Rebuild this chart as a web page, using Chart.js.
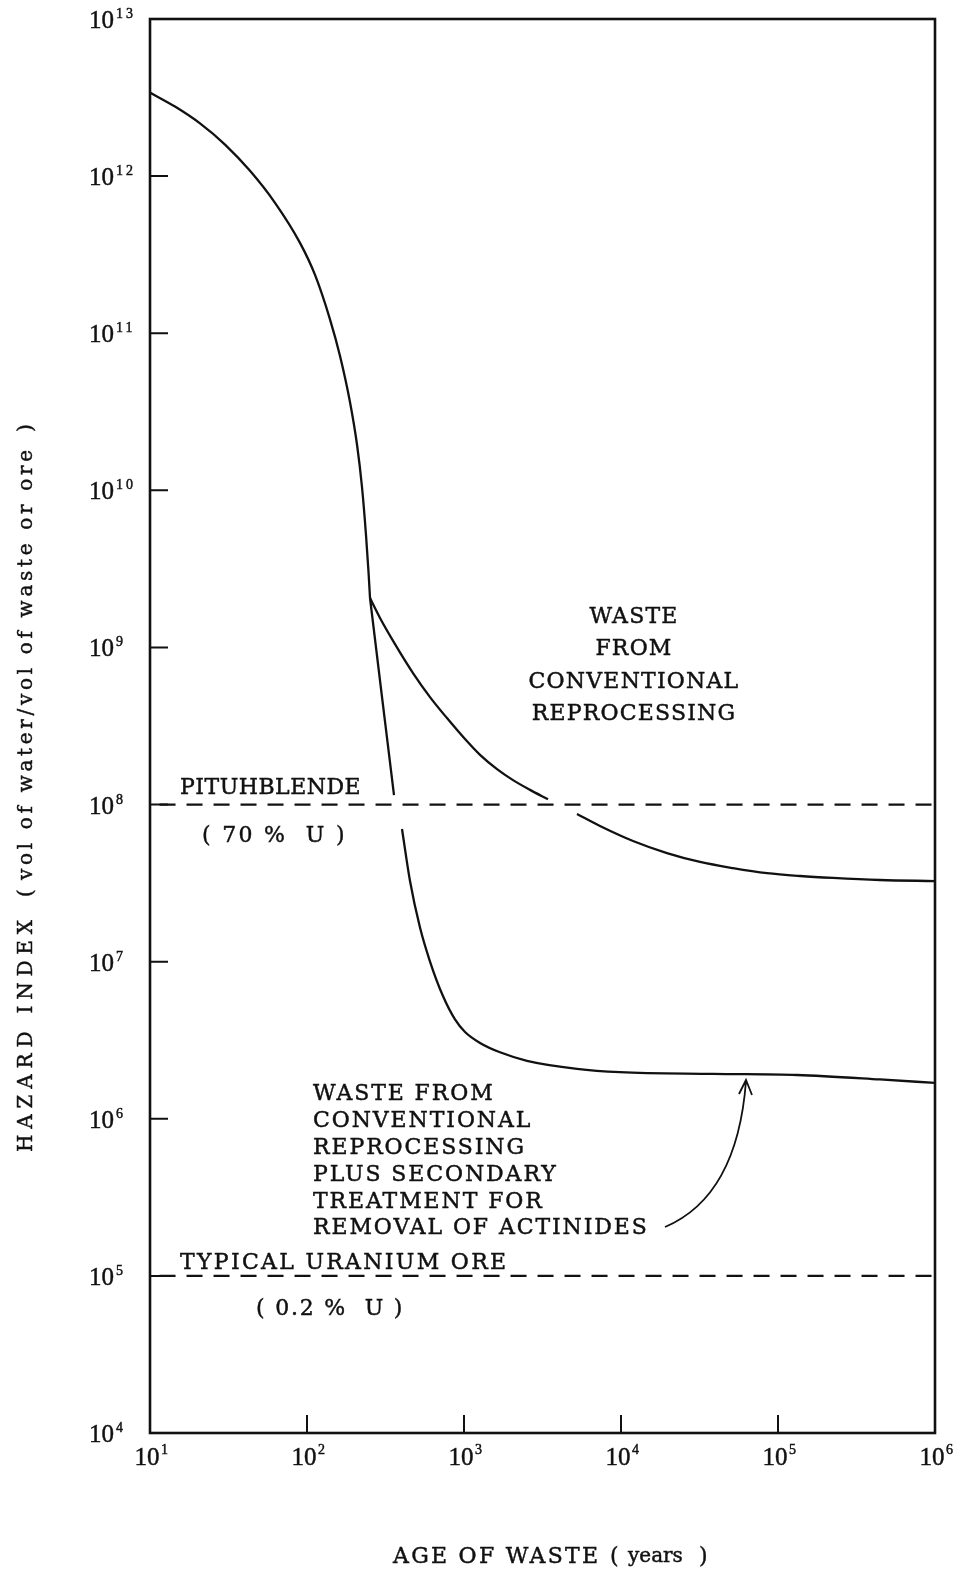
<!DOCTYPE html>
<html>
<head>
<meta charset="utf-8">
<title>Hazard index vs age of waste</title>
<script src="https://cdn.jsdelivr.net/npm/chart.js@4.4.1/dist/chart.umd.min.js"></script>
<style>
  html, body { margin: 0; padding: 0; background: #fff; }
  #wrap { position: relative; width: 955px; height: 1572px; }
</style>
</head>
<body>
<div id="wrap"><canvas id="hazardChart"></canvas></div>
<script>
// values
// common part of the curve, up to where the two treatments split (~250 years)
const earlyAge   = [10, 14.43, 20.82, 30.05, 43.35, 62.56, 90.24, 112.5, 140.1, 162.3, 187.8, 208.3, 224, 237.6, 246.5, 252];
const earlyIndex = [3.40e12, 2.77e12, 2.165e12, 1.587e12, 1.08e12, 6.76e11, 3.76e11, 2.35e11, 1.226e11, 7.16e10, 3.65e10, 1.95e10, 1.05e10, 5.19e9, 3.02e9, 2.06e9];

// null = break in the printed curve where it crosses the dashed line
const conventionalAge   = [252, 291.7, 363.5, 473.4, 607.4, 779.3, 1015, 1265, 1623, 2052, 2633, 3428, 4200, 5245, 7348, 11925, 19630, 31860, 51690, 85100, 138100, 224000, 446300, 1000000];
const conventionalIndex = [2.06e9, 1.54e9, 1.05e9, 6.87e8, 4.83e8, 3.55e8, 2.61e8, 2.07e8, 1.68e8, 1.43e8, 1.24e8, 1.08e8, null, 8.7e7, 7.3e7, 5.86e7, 4.91e7, 4.31e7, 3.94e7, 3.66e7, 3.51e7, 3.41e7, 3.31e7, 3.26e7];

const secondaryAge   = [252, 300.5, 358.2, 380, 402.8, 453, 524.5, 607.4, 734.6, 876.3, 1015, 1265, 1696, 2519, 5245, 9854, 38550, 132100, 446300, 1000000];
const secondaryIndex = [2.06e9, 4.83e8, 1.15e8, null, 6.99e7, 3.26e7, 1.648e7, 1.002e7, 6.04e6, 4.29e6, 3.57e6, 3.04e6, 2.65e6, 2.34e6, 2.08e6, 1.98e6, 1.93e6, 1.90e6, 1.78e6, 1.69e6];

const referenceAge = [11.5, 1000000];
const pitchblendeLevel = 1e8;
const uraniumOreLevel = 1e5;

const xTickValues = [1e1, 1e2, 1e3, 1e4, 1e5, 1e6];
const yTickValues = [1e4, 1e5, 1e6, 1e7, 1e8, 1e9, 1e10, 1e11, 1e12, 1e13];

const ink = '#111';

function toPoints(xs, ys) {
    return xs.map((v, i) => ({ x: v, y: ys[i] }));
}

// text with a hairline stroke so it looks like the heavy print of the scan
function drawSpaced(ctx, text, x, y, spacing) {
    ctx.letterSpacing = spacing + 'px';
    ctx.fillText(text, x, y);
    ctx.lineWidth = 0.45;
    ctx.strokeText(text, x, y);
    ctx.letterSpacing = '0px';
}

// stretch the letter spacing so a line covers the given length
function drawFitted(ctx, text, x, y, length) {
    ctx.letterSpacing = '0px';
    const w = ctx.measureText(text).width;
    const spacing = (length - w) / (text.length - 1);
    drawSpaced(ctx, text, x, y, spacing);
}

// frame, inward ticks, power-of-ten labels and the printed notes
const paperPlugin = {
    id: 'paper',
    afterDatasetsDraw(chart) {
        const { ctx, chartArea: a, scales } = chart;
        const xs = scales.x, ys = scales.y;
        ctx.save();
        ctx.strokeStyle = ink;
        ctx.fillStyle = ink;

        ctx.lineWidth = 2.6;
        ctx.strokeRect(a.left, a.top, a.right - a.left, a.bottom - a.top);

        // tick marks point into the plot
        ctx.lineWidth = 2;
        ctx.beginPath();
        xs.ticks.forEach(t => {
            if (t.value <= xs.min || t.value >= xs.max) return;
            const px = xs.getPixelForValue(t.value);
            ctx.moveTo(px, a.bottom);
            ctx.lineTo(px, a.bottom - 18);
        });
        ys.ticks.forEach(t => {
            if (t.value <= ys.min || t.value >= ys.max) return;
            const py = ys.getPixelForValue(t.value);
            ctx.moveTo(a.left, py);
            ctx.lineTo(a.left + 18, py);
        });
        ctx.stroke();

        // y tick labels: 10 with a raised exponent
        ctx.textBaseline = 'alphabetic';
        ys.ticks.forEach(t => {
            const py = ys.getPixelForValue(t.value);
            const exp = Math.round(Math.log10(t.value));
            ctx.font = '25px "Liberation Serif"';
            ctx.textAlign = 'right';
            drawSpaced(ctx, '10', 114, py + 9, 0);
            ctx.font = '14px "Liberation Serif"';
            ctx.textAlign = 'left';
            drawSpaced(ctx, String(exp), 116, py - 1, 3);
        });

        // x tick labels
        xs.ticks.forEach(t => {
            const px = xs.getPixelForValue(t.value);
            const exp = Math.round(Math.log10(t.value));
            ctx.font = '25px "Liberation Serif"';
            ctx.textAlign = 'center';
            drawSpaced(ctx, '10', px - 3, a.bottom + 32, 0);
            ctx.font = '14px "Liberation Serif"';
            ctx.textAlign = 'left';
            drawSpaced(ctx, String(exp), px + 11, a.bottom + 21, 0);
        });

        // notes inside the plot
        ctx.font = '22px "DejaVu Serif"';
        ctx.textBaseline = 'middle';
        ctx.textAlign = 'center';
        [['WASTE', 617], ['FROM', 649], ['CONVENTIONAL', 682], ['REPROCESSING', 714]].forEach(([s, yy]) => {
            drawSpaced(ctx, s, 634, yy, 1.2);
        });

        ctx.textAlign = 'left';
        drawSpaced(ctx, 'PITUHBLENDE', 180, 788, 0.5);
        drawSpaced(ctx, '( 70 %  U )', 202, 836, 2.3);

        [['WASTE FROM', 1094], ['CONVENTIONAL', 1121], ['REPROCESSING', 1148],
         ['PLUS SECONDARY', 1175], ['TREATMENT FOR', 1202], ['REMOVAL OF ACTINIDES', 1228]].forEach(([s, yy]) => {
            drawSpaced(ctx, s, 313, yy, 1.9);
        });

        drawSpaced(ctx, 'TYPICAL URANIUM ORE', 180, 1263, 2.3);
        drawSpaced(ctx, '( 0.2 %  U )', 256, 1309, 1.8);

        // curved arrow pointing at the lower curve
        ctx.lineWidth = 1.8;
        ctx.beginPath();
        ctx.moveTo(665, 1227);
        ctx.bezierCurveTo(712, 1207, 740, 1160, 746, 1081);
        ctx.moveTo(739, 1094);
        ctx.lineTo(746, 1080);
        ctx.lineTo(752, 1095);
        ctx.stroke();

        // x axis title
        ctx.font = '22px "DejaVu Serif"';
        ctx.textAlign = 'left';
        drawFitted(ctx, 'AGE OF WASTE', 393, 1557, 205);
        drawSpaced(ctx, '(', 610, 1557, 0);
        drawSpaced(ctx, ')', 699, 1557, 0);
        ctx.font = '20px "DejaVu Serif"';
        drawSpaced(ctx, 'years', 628, 1557, 0);

        // y axis title, read bottom to top
        ctx.translate(27, 0);
        ctx.rotate(-Math.PI / 2);
        ctx.font = '20px "DejaVu Serif"';
        drawFitted(ctx, 'HAZARD INDEX', -1152, 0, 232);
        drawSpaced(ctx, '(', -897, 0, 0);
        drawFitted(ctx, 'vol of water/vol of waste or ore', -880, 0, 430);
        drawSpaced(ctx, ')', -432, 0, 0);

        ctx.restore();
    }
};

const ctx = document.getElementById('hazardChart').getContext('2d');

const curveStyle = {
    borderColor: ink,
    borderWidth: 2.3,
    pointRadius: 0,
    fill: false,
    spanGaps: false,
    cubicInterpolationMode: 'monotone'
};
const dashStyle = {
    borderColor: ink,
    borderWidth: 2.2,
    borderDash: [16, 11],
    pointRadius: 0,
    fill: false
};

new Chart(ctx, {
    type: 'line',
    data: {
        datasets: [
            Object.assign({ label: 'Waste (before separation)', data: toPoints(earlyAge, earlyIndex) }, curveStyle),
            Object.assign({ label: 'Waste from conventional reprocessing', data: toPoints(conventionalAge, conventionalIndex) }, curveStyle),
            Object.assign({ label: 'Plus secondary treatment for removal of actinides', data: toPoints(secondaryAge, secondaryIndex) }, curveStyle),
            Object.assign({ label: 'Pitchblende (70% U)', data: toPoints(referenceAge, referenceAge.map(() => pitchblendeLevel)) }, dashStyle),
            Object.assign({ label: 'Typical uranium ore (0.2% U)', data: toPoints(referenceAge, referenceAge.map(() => uraniumOreLevel)) }, dashStyle)
        ]
    },
    options: {
        responsive: true,
        maintainAspectRatio: false,
        animation: false,
        layout: { padding: { left: 150, right: 20, top: 19, bottom: 139 } },
        plugins: {
            legend: { display: false },
            tooltip: { enabled: false }
        },
        scales: {
            x: {
                type: 'logarithmic',
                display: false,
                min: 10,
                max: 1e6,
                afterBuildTicks: scale => { scale.ticks = xTickValues.map(v => ({ value: v })); }
            },
            y: {
                type: 'logarithmic',
                display: false,
                min: 1e4,
                max: 1e13,
                afterBuildTicks: scale => { scale.ticks = yTickValues.map(v => ({ value: v })); }
            }
        }
    },
    plugins: [paperPlugin]
});
</script>
</body>
</html>
